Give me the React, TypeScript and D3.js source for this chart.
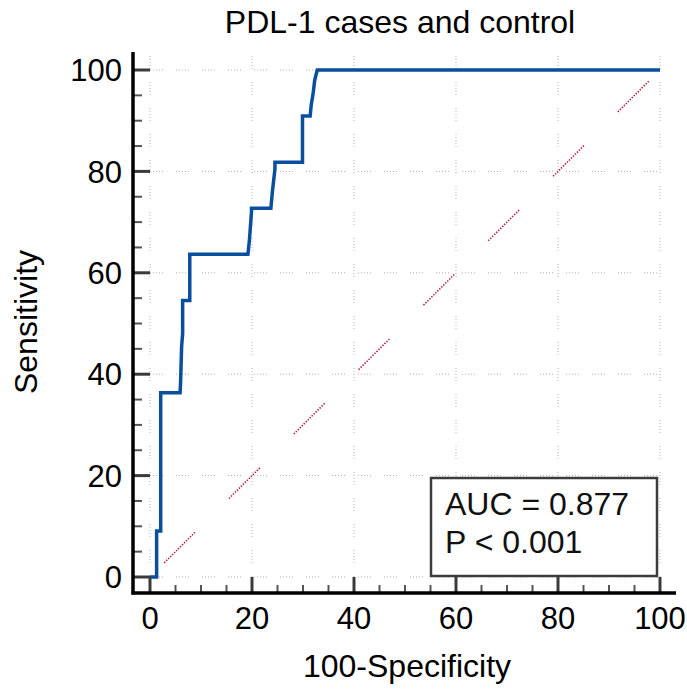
import React from 'react';
import * as d3 from 'd3';

const title = 'PDL-1 cases and control';
const xLabel = '100-Specificity';
const yLabel = 'Sensitivity';
const statLines = ['AUC = 0.877', 'P < 0.001'];

// ROC curve (100-Specificity, Sensitivity)
const fpr = [0, 1.3, 1.3, 2.1, 2.1, 5.9, 6.0, 6.2, 6.4, 6.4, 7.8, 7.8, 19.2, 19.5, 19.9, 19.9, 23.7, 24.0, 24.5, 24.5, 29.9, 29.9, 31.4, 31.6, 32.0, 32.3, 32.8, 100];
const tpr = [0, 0, 9.09, 9.09, 36.36, 36.36, 38.5, 45.45, 48, 54.55, 54.55, 63.64, 63.64, 66.5, 72.0, 72.73, 72.73, 76.0, 80.5, 81.82, 81.82, 90.91, 90.91, 93.0, 95.5, 98.0, 100, 100];

const majorTicks = [0, 20, 40, 60, 80, 100];
const minorTicks = d3.range(0, 101, 5).filter(v => v % 20 !== 0);

const W = 687;
const H = 689;

// dotted dash groups, e.g. "1 2 1 2 ... gap"
function dotGroups(dots, step, gap, dot = 1) {
  const parts = [];
  for (let i = 0; i < dots; i++) {
    parts.push(dot, i === dots - 1 ? gap : step - dot);
  }
  return parts.join(' ');
}

export default function App() {
  const x = d3.scaleLinear().domain([0, 100]).range([150, 660]);
  const y = d3.scaleLinear().domain([0, 100]).range([577, 70]);

  const axisX = 133;
  const axisY = 593;

  const pts = fpr.map((f, i) => [f, tpr[i]]);
  const line = d3.line()
    .x(d => x(d[0]))
    .y(d => y(d[1]));

  const font = '"Liberation Sans", Arial, sans-serif';
  const gridDash = dotGroups(5, 3, 13);
  const diagDash = dotGroups(16, 2.8, 48, 1.4);

  const boxLeft = 431;
  const boxTop = 478;
  const boxRight = 657;
  const boxBottom = 576;

  return (
    <svg width={W} height={H} style={{ position: 'absolute', left: 0, top: 0, background: '#fff' }}
      fontFamily={font}>
      <rect x={0} y={0} width={W} height={H} fill="#fff" />

      {/* grid */}
      <g stroke="#b0b0b0" strokeWidth={1}>
        {majorTicks.map(t => (
          <line key={'gx' + t} x1={x(t)} x2={x(t)} y1={y(100) - 14} y2={y(0)}
            strokeDasharray={gridDash} />
        ))}
        {majorTicks.map(t => (
          <line key={'gy' + t} x1={x(0)} x2={x(100) + 10} y1={y(t)} y2={y(t)}
            strokeDasharray={gridDash} />
        ))}
      </g>

      {/* diagonal reference */}
      <line x1={x(0)} y1={y(0)} x2={x(100)} y2={y(100)} stroke="#b02040" strokeWidth={1.6}
        strokeDasharray={diagDash} strokeDashoffset={-20} />

      {/* ROC curve */}
      <path d={line(pts)} fill="none" stroke="#0a4f9e" strokeWidth={3.5} strokeLinejoin="miter" />

      {/* stats box */}
      <rect x={boxLeft} y={boxTop} width={boxRight - boxLeft} height={boxBottom - boxTop}
        fill="#fff" stroke="#3c3c3c" strokeWidth={2.5} />
      {statLines.map((s, i) => (
        <text key={s} x={boxLeft + 14} y={515 + i * 38} fontSize={32} fill="#111">{s}</text>
      ))}

      {/* axes */}
      <g>
        {majorTicks.map(t => (
          <line key={'my' + t} x1={axisX} x2={x(0)} y1={y(t)} y2={y(t)} stroke="#3a3a3a" strokeWidth={3} />
        ))}
        {minorTicks.map(t => (
          <line key={'ny' + t} x1={axisX} x2={axisX + 9} y1={y(t)} y2={y(t)} stroke="#555" strokeWidth={2} />
        ))}
        {majorTicks.map(t => (
          <line key={'mx' + t} x1={x(t)} x2={x(t)} y1={axisY} y2={y(0)} stroke="#3a3a3a" strokeWidth={3} />
        ))}
        {minorTicks.map(t => (
          <line key={'nx' + t} x1={x(t)} x2={x(t)} y1={axisY} y2={axisY - 8} stroke="#555" strokeWidth={2} />
        ))}
        <line x1={axisX} x2={axisX} y1={52} y2={axisY + 1.5} stroke="#000" strokeWidth={3.5} />
        <line x1={axisX - 1.5} x2={676} y1={axisY} y2={axisY} stroke="#000" strokeWidth={3.5} />
      </g>

      {/* tick labels */}
      <g fontSize={31} fill="#000">
        {majorTicks.map(t => (
          <text key={'ly' + t} x={122} y={y(t)} dy="0.36em" textAnchor="end">{t}</text>
        ))}
        {majorTicks.map(t => (
          <text key={'lx' + t} x={x(t)} y={629} textAnchor="middle">{t}</text>
        ))}
      </g>

      {/* titles */}
      <text x={400} y={33} fontSize={32} textAnchor="middle" fill="#000">{title}</text>
      <text x={407} y={677} fontSize={32} textAnchor="middle" fill="#000">{xLabel}</text>
      <text transform={`translate(37,322) rotate(-90)`} fontSize={32} textAnchor="middle" fill="#000">{yLabel}</text>
    </svg>
  );
}
